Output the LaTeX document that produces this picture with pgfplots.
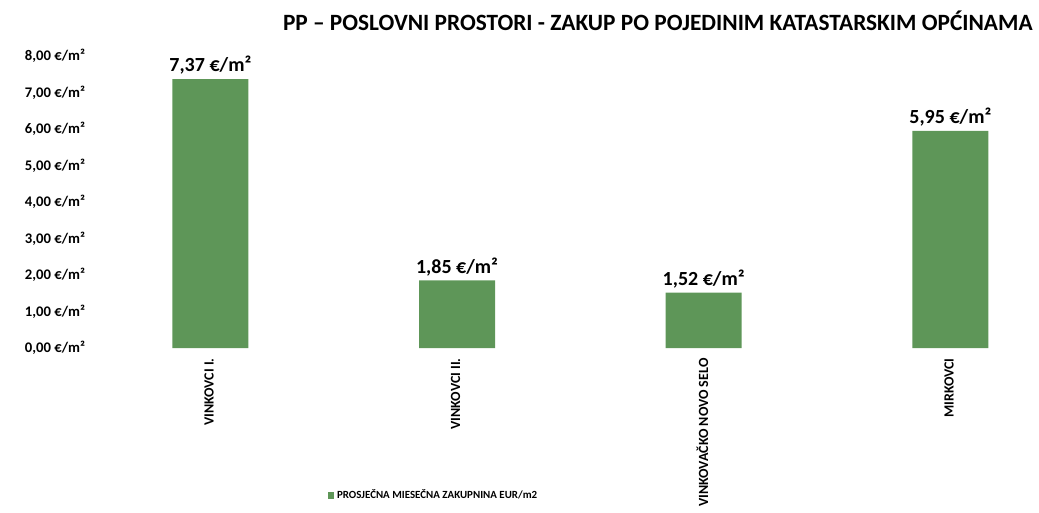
\documentclass[border=0pt]{standalone}
\usepackage{fontspec}
\setmainfont{Carlito}
\usepackage{pgfplots}
\pgfplotsset{compat=1.18}
\definecolor{barg}{RGB}{94,150,88}
\begin{document}
\begin{tikzpicture}
\useasboundingbox (-65.25pt,-123pt) rectangle (714pt,261pt);
\begin{axis}[
  scale only axis,
  width=703pt, height=219pt,
  xmin=-0.5, xmax=3.3,
  ymin=0, ymax=8,
  axis line style={draw=none},
  tick style={draw=none},
  ytick={0,1,...,8},
  /pgf/number format/assume math mode=true,
  yticklabel={\pgfmathprintnumber[fixed,fixed zerofill,precision=2,use comma]{\tick}~€/m²},
  yticklabel style={font=\bfseries\fontsize{11}{12}\selectfont, xshift=2pt},
  xtick=data,
  xticklabels={VINKOVCI I., VINKOVCI II., VINKOVAČKO NOVO SELO, MIRKOVCI},
  xticklabel style={rotate=90, anchor=east, font=\bfseries\fontsize{10.5}{12}\selectfont, yshift=1pt},
  ybar, bar width=57pt,
  nodes near coords={\pgfmathprintnumber[fixed,fixed zerofill,precision=2,use comma]{\pgfplotspointmeta}~€/m²},
  nodes near coords style={font=\bfseries\fontsize{15}{17}\selectfont, /pgf/number format/assume math mode=true},
  legend style={draw=none, at={(rel axis cs:0.37,-0.505)}, anchor=center, font=\bfseries\fontsize{8.2}{10}\selectfont},
  legend image code/.code={\fill[#1] (0pt,-2.5pt) rectangle (5pt,2.5pt);},
  clip=false,
]
\addplot[fill=barg, draw=none] coordinates {(0,7.37) (1,1.85) (2,1.52) (3,5.95)};
\addlegendentry{PROSJEČNA MIESEČNA ZAKUPNINA EUR/m2}
\node[font=\bfseries\fontsize{17.5}{20}\selectfont] at (rel axis cs:0.609,1.12) {PP – POSLOVNI PROSTORI - ZAKUP PO POJEDINIM KATASTARSKIM OPĆINAMA};
\end{axis}
\end{tikzpicture}
\end{document}
